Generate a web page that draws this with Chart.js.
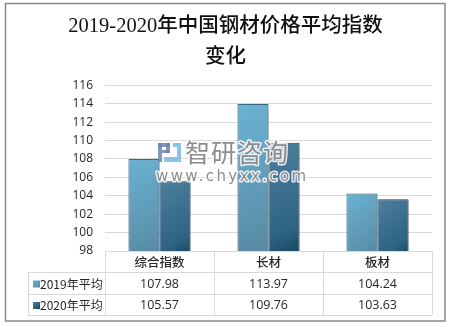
<!DOCTYPE html>
<html>
<head>
<meta charset="utf-8">
<script src="https://cdn.jsdelivr.net/npm/chart.js@4/dist/chart.umd.min.js"></script>
<style>
  html, body { margin: 0; padding: 0; background: #fff; }
  #wrap { width: 451px; height: 327px; }
</style>
</head>
<body>
<div id="wrap"><canvas id="c" width="451" height="327"></canvas></div>
<script>
// Steel price index averages, 2019 vs 2020
const categories = ['综合指数', '长材', '板材'];
const seriesNames = ['2019年平均', '2020年平均'];
const values2019 = [107.98, 113.97, 104.24];
const values2020 = [105.57, 109.76, 103.63];
const yMin = 98, yMax = 116, yStep = 2;

const titleLines = ['2019-2020年中国钢材价格平均指数', '变化'];
const CJK = '"Noto Sans CJK SC", "Noto Sans", sans-serif';
const CAT_PCT = 0.57;

// Gradient stops for each series (top-left -> bottom-right)
const fills = [
  ['#6bb2d4', '#5c93ad', '#5687a0'],
  ['#4d7f9e', '#2f6383', '#0f445e']
];
const borders = ['#3b6f8a', '#2a4e66'];

function barGradient(seriesIndex) {
  return function (ctx) {
    const chart = ctx.chart;
    const xs = chart.scales.x, ys = chart.scales.y;
    if (!xs || !ys || !chart.chartArea) return fills[seriesIndex][0];
    const catW = (xs.right - xs.left) / categories.length;
    const group = catW * CAT_PCT;
    const cx = xs.getPixelForValue(ctx.dataIndex);
    const x0 = cx - group / 2 + seriesIndex * group / 2;
    const x1 = x0 + group / 2;
    const val = ctx.raw;
    const yTop = ys.getPixelForValue(val);
    const yBot = ys.getPixelForValue(yMin);
    if (!isFinite(x0) || !isFinite(yTop)) return fills[seriesIndex][0];
    const g = chart.ctx.createLinearGradient(x0, yTop, x1 + (yBot - yTop) * 0.15, yBot);
    const s = fills[seriesIndex];
    g.addColorStop(0, s[0]);
    g.addColorStop(0.75, s[1]);
    g.addColorStop(1, s[2]);
    return g;
  };
}

// White page with grey frame
const framePlugin = {
  id: 'frame',
  beforeDraw(chart) {
    const c = chart.ctx;
    c.save();
    c.fillStyle = '#fff';
    c.fillRect(0, 0, chart.width, chart.height);
    c.restore();
  },
  afterDraw(chart) {
    const c = chart.ctx;
    c.save();
    c.strokeStyle = '#8a8a8a';
    c.lineWidth = 1.5;
    c.strokeRect(5.5, 3.5, 439.5, 317.5);
    c.restore();
  }
};

// Soft drop shadow behind bars
const shadowPlugin = {
  id: 'barShadow',
  beforeDatasetsDraw(chart) {
    const c = chart.ctx;
    c.save();
    c.shadowColor = 'rgba(0,0,0,0.28)';
    c.shadowBlur = 4;
    c.shadowOffsetX = 2;
    c.shadowOffsetY = 1;
  },
  afterDatasetsDraw(chart) {
    chart.ctx.restore();
  }
};

// Brand watermark over the plot
const watermarkPlugin = {
  id: 'watermark',
  afterDatasetsDraw(chart) {
    const c = chart.ctx;
    c.save();
    // logo blocks
    c.fillStyle = 'rgba(110,132,176,0.85)';
    c.fillRect(158, 143, 12, 4);
    c.fillRect(158, 143, 4, 19);
    c.fillRect(166, 143, 4, 10);
    c.fillRect(162, 150, 8, 3);
    c.fillStyle = 'rgba(120,185,228,0.85)';
    c.fillRect(173, 143, 8, 4);
    c.fillRect(177, 147, 4, 15);
    c.fillRect(164, 157, 13, 5);
    // name
    c.font = '400 25px ' + CJK;
    c.textBaseline = 'middle';
    c.textAlign = 'left';
    c.lineJoin = 'round';
    c.strokeStyle = 'rgba(255,255,255,0.85)';
    c.lineWidth = 3;
    c.letterSpacing = '1px';
    c.strokeText('智研咨询', 185, 152);
    c.fillStyle = 'rgba(128,128,128,0.9)';
    c.fillText('智研咨询', 185, 152);
    // url
    c.font = '400 15px "DejaVu Sans", sans-serif';
    c.letterSpacing = '2.4px';
    c.strokeText('www.chyxx.com', 156, 177);
    c.fillText('www.chyxx.com', 156, 177);
    c.restore();
  }
};

// Data table under the x axis (category header, legend keys, values)
const tablePlugin = {
  id: 'dataTable',
  afterDraw(chart) {
    const c = chart.ctx;
    const xs = chart.scales.x;
    const area = chart.chartArea;
    const catW = (area.right - area.left) / categories.length;
    const top = area.bottom;
    const rows = [top, top + 21, top + 43, top + 64];
    const legendLeft = 28;
    const series = [values2019, values2020];

    c.save();
    c.strokeStyle = '#d9d9d9';
    c.lineWidth = 1;
    c.beginPath();
    // horizontal lines
    c.moveTo(area.left, rows[0] + 0.5); c.lineTo(area.right, rows[0] + 0.5);
    for (let r = 1; r < rows.length; r++) {
      c.moveTo(legendLeft, rows[r] + 0.5); c.lineTo(area.right, rows[r] + 0.5);
    }
    // vertical lines
    c.moveTo(legendLeft + 0.5, rows[1]); c.lineTo(legendLeft + 0.5, rows[3]);
    for (let i = 0; i <= categories.length; i++) {
      const x = Math.round(area.left + i * catW) + 0.5;
      c.moveTo(x, rows[0]); c.lineTo(x, rows[3]);
    }
    c.stroke();

    c.fillStyle = '#262626';
    c.textBaseline = 'middle';
    c.textAlign = 'center';
    c.font = '500 12.5px ' + CJK;
    categories.forEach((cat, i) => {
      c.fillText(cat, xs.getPixelForValue(i), (rows[0] + rows[1]) / 2 + 1);
    });
    series.forEach((vals, s) => {
      const cy = (rows[s + 1] + rows[s + 2]) / 2 + 1;
      c.fillStyle = '#262626';
      c.textAlign = 'center';
      c.font = '12.5px "Open Sans", ' + CJK;
      vals.forEach((v, i) => {
        c.fillText(v.toFixed(2), xs.getPixelForValue(i), cy);
      });
      // legend key
      const g = c.createLinearGradient(33, cy - 3, 40, cy + 4);
      g.addColorStop(0, fills[s][0]);
      g.addColorStop(1, fills[s][2]);
      c.fillStyle = g;
      c.fillRect(33, cy - 3.5, 7, 7);
      c.fillStyle = '#262626';
      c.textAlign = 'left';
      c.font = '12px ' + CJK;
      c.fillText(seriesNames[s], 40, cy);
    });
    c.restore();
  }
};

new Chart(document.getElementById('c'), {
  type: 'bar',
  data: {
    labels: categories,
    datasets: [
      {
        label: seriesNames[0],
        data: values2019,
        backgroundColor: barGradient(0),
        borderColor: borders[0],
        borderWidth: 1,
        categoryPercentage: CAT_PCT,
        barPercentage: 1
      },
      {
        label: seriesNames[1],
        data: values2020,
        backgroundColor: barGradient(1),
        borderColor: borders[1],
        borderWidth: 1,
        categoryPercentage: CAT_PCT,
        barPercentage: 1
      }
    ]
  },
  options: {
    responsive: false,
    animation: false,
    devicePixelRatio: 1,
    layout: { padding: { left: 0, right: 0, top: 0, bottom: 76 } },
    plugins: {
      legend: { display: false },
      tooltip: { enabled: false },
      title: {
        display: true,
        text: titleLines,
        color: '#111',
        font: { family: '"Liberation Serif", ' + CJK, size: 20.5, weight: '500', lineHeight: 1.47 },
        padding: { top: 12, bottom: 13 }
      }
    },
    scales: {
      x: {
        display: false
      },
      y: {
        min: yMin,
        max: yMax,
        border: { display: false },
        grid: { color: '#d9d9d9', drawTicks: false },
        ticks: {
          stepSize: yStep,
          padding: 12,
          color: '#262626',
          font: { family: '"Open Sans", sans-serif', size: 12 }
        },
        afterFit(scale) { scale.width = 105; }
      },
      // empty right-hand margin axis
      yRight: {
        position: 'right',
        display: true,
        min: yMin,
        max: yMax,
        border: { display: false },
        grid: { display: false, drawOnChartArea: false },
        ticks: { display: false },
        afterFit(scale) { scale.width = 19; }
      }
    }
  },
  plugins: [framePlugin, shadowPlugin, watermarkPlugin, tablePlugin]
});
</script>
</body>
</html>
